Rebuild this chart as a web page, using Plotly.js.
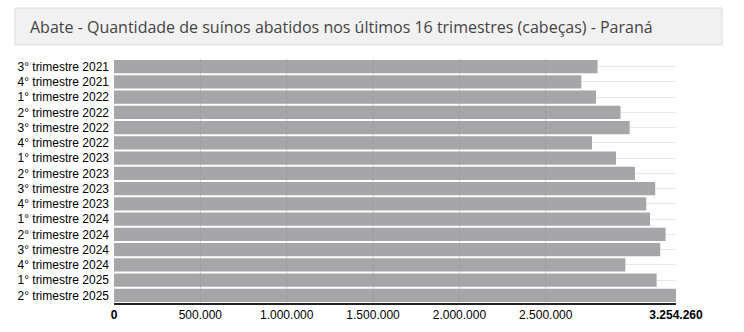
<!DOCTYPE html>
<html>
<head>
<meta charset="utf-8">
<script src="https://cdn.plot.ly/plotly-3.0.1.min.js"></script>
<style>
html,body{margin:0;padding:0;background:#fff;}
#chart{width:744px;height:332px;}
</style>
</head>
<body>
<div id="chart"></div>
<script>
const categories = [
  "3° trimestre 2021","4° trimestre 2021","1° trimestre 2022","2° trimestre 2022",
  "3° trimestre 2022","4° trimestre 2022","1° trimestre 2023","2° trimestre 2023",
  "3° trimestre 2023","4° trimestre 2023","1° trimestre 2024","2° trimestre 2024",
  "3° trimestre 2024","4° trimestre 2024","1° trimestre 2025","2° trimestre 2025"
];
const values = [
  2800000, 2706000, 2791000, 2933000,
  2986000, 2768000, 2907000, 3017000,
  3134000, 3082000, 3104000, 3194000,
  3163000, 2961000, 3142000, 3254260
];
const tickVals = [0, 500000, 1000000, 1500000, 2000000, 2500000, 3254260];
const tickText = ["<b>0</b>", "500.000", "1.000.000", "1.500.000", "2.000.000", "2.500.000", "<b>3.254.260</b>"];
const titleText = "Abate - Quantidade de suínos abatidos nos últimos 16 trimestres (cabeças) - Paraná";

const trace = {
  type: "bar",
  orientation: "h",
  x: values,
  y: categories,
  marker: {color: "#a6a5a7", line: {width: 0}},
  hoverinfo: "x+y"
};

const layout = {
  width: 744, height: 332,
  margin: {l: 114, r: 68, t: 59, b: 29, pad: 0},
  paper_bgcolor: "#ffffff",
  plot_bgcolor: "#ffffff",
  showlegend: false,
  bargap: 0.13,
  font: {family: "Liberation Sans, Arial, sans-serif", size: 12, color: "#000"},
  title: {
    text: titleText,
    x: 30/744, xanchor: "left", xref: "container",
    y: 1 - 27/332, yanchor: "middle", yref: "container",
    font: {family: "Open Sans, sans-serif", size: 16, color: "#444444"}
  },
  xaxis: {
    range: [0, 3254260],
    tickmode: "array",
    tickvals: tickVals,
    ticktext: tickText,
    showgrid: true,
    gridcolor: "#e4e4e4",
    gridwidth: 1,
    zeroline: false,
    showline: true,
    linecolor: "#222",
    linewidth: 1.5,
    ticks: "",
    tickfont: {family: "Liberation Sans, Arial, sans-serif", size: 12, color: "#000"},
    fixedrange: true
  },
  yaxis: {
    type: "category",
    autorange: "reversed",
    showgrid: true,
    gridcolor: "#e8e8e8",
    zeroline: false,
    showline: false,
    ticks: "",
    ticklabelstandoff: 4,
    tickfont: {family: "Liberation Sans, Arial, sans-serif", size: 12, color: "#000"},
    fixedrange: true
  },
  shapes: [
    {type: "rect", xref: "paper", yref: "paper",
     x0: (15-114)/562, x1: (722-114)/562, y0: (303-45)/244, y1: (303-8)/244,
     fillcolor: "#f1f1f1", line: {color: "#dcdcdc", width: 1}, layer: "below"}
  ].concat([500000,1000000,1500000,2000000,2500000].map(v => ({
     type: "line", xref: "x", yref: "paper", x0: v, x1: v, y0: 0, y1: 1,
     line: {color: "rgba(120,120,120,0.10)", width: 1}, layer: "above"
  })))
};

Plotly.newPlot("chart", [trace], layout, {displayModeBar: false, staticPlot: true});
</script>
</body>
</html>
